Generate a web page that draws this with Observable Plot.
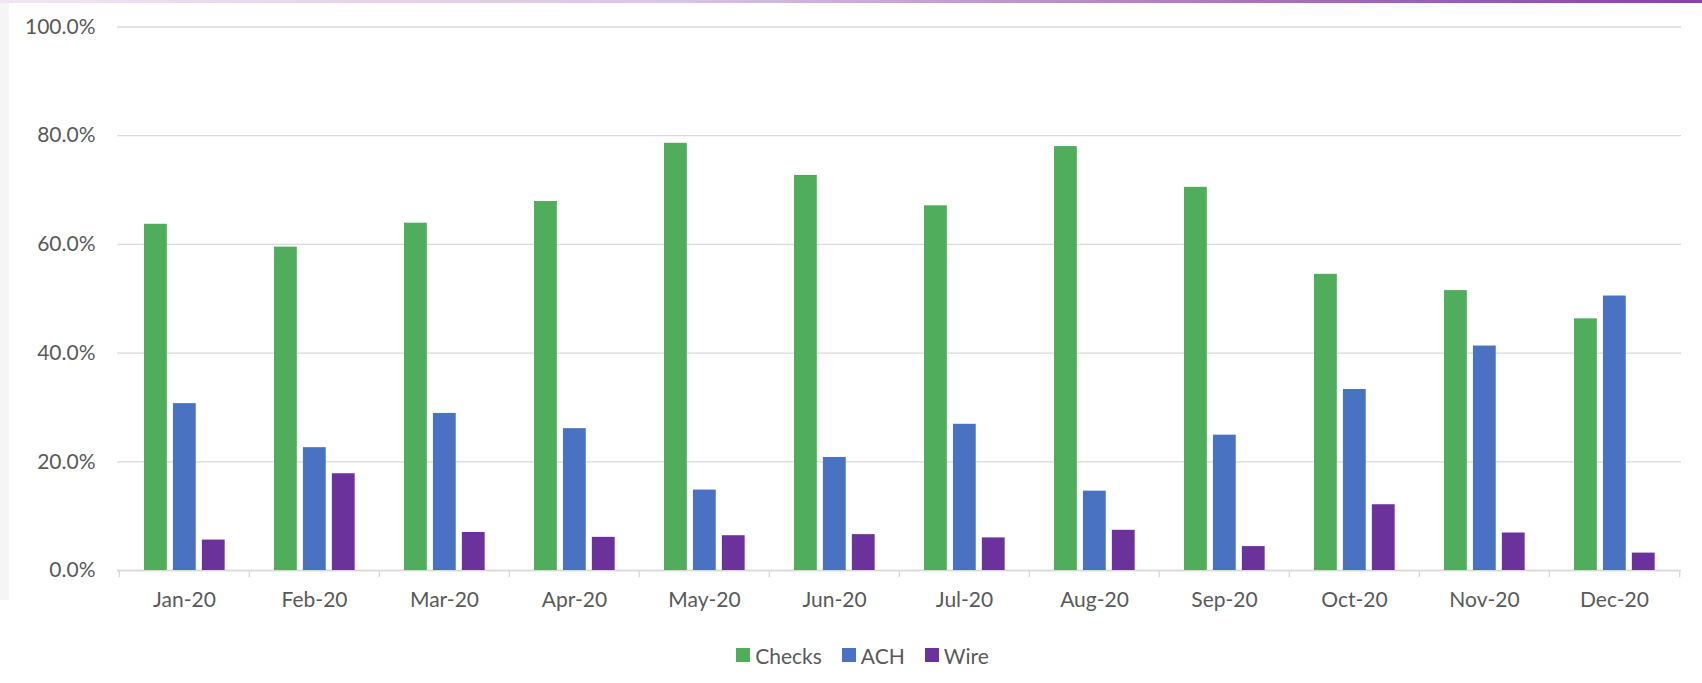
<!DOCTYPE html>
<html>
<head>
<meta charset="utf-8">
<script src="https://cdn.jsdelivr.net/npm/d3@7"></script>
<script src="https://cdn.jsdelivr.net/npm/@observablehq/plot@0.6"></script>
<style>
  html, body { margin: 0; padding: 0; background: #fff; }
  body { width: 1702px; height: 683px; position: relative; overflow: hidden; font-family: Lato, sans-serif; }
  #topstrip { position: absolute; left: 0; top: 0; width: 1702px; height: 3px;
    background: linear-gradient(to right, #efe6f2 0%, #d9c4e3 40%, #a86fc0 75%, #8b3fa8 100%); }
  #leftstrip { position: absolute; left: 0; top: 3px; width: 9px; height: 597px; background: #f5f5f5; }
  #chart { position: absolute; left: 0; top: 0; }
  #legend { position: absolute; left: 0; top: 635px; width: 1702px; height: 40px; display: flex;
    justify-content: center; align-items: center; gap: 20px; font-size: 21px; color: #595959;
    box-sizing: border-box; padding-left: 23px; }
  #legend .item { display: flex; align-items: center; gap: 5px; }
  #legend .sw { width: 14px; height: 14px; display: inline-block; }
</style>
</head>
<body>
<div id="chart"></div>
<div id="topstrip"></div>
<div id="leftstrip"></div>
<div id="legend"></div>
<script>
const months = ["Jan-20","Feb-20","Mar-20","Apr-20","May-20","Jun-20","Jul-20","Aug-20","Sep-20","Oct-20","Nov-20","Dec-20"];
const series = ["Checks","ACH","Wire"];
const colors = ["#4fad5b","#4a72c2","#6b329b"];
const checks = [0.637,0.595,0.639,0.679,0.786,0.727,0.671,0.780,0.705,0.545,0.515,0.463];
const ach    = [0.307,0.226,0.289,0.261,0.148,0.208,0.269,0.146,0.249,0.333,0.413,0.505];
const wire   = [0.056,0.178,0.070,0.061,0.064,0.066,0.060,0.074,0.044,0.121,0.069,0.032];
const yTicks = [0,0.2,0.4,0.6,0.8,1.0];

const valuesBySeries = {Checks: checks, ACH: ach, Wire: wire};
const data = series.flatMap(s => months.map((m, i) => ({month: m, series: s, value: valuesBySeries[s][i]})));

const W = 1702, H = 635, ML = 117, MR = 21, MT = 26.5, MB = 65;
const step = (W - ML - MR) / months.length;
// inner band for the three series within each month
const inner = d3.scaleBand().domain(series).range([25, 106]).paddingInner(0.2).paddingOuter(0);

const barMarks = series.map((s, k) => Plot.barY(data.filter(d => d.series === s), {
  x: "month", y: "value", fill: colors[k],
  insetLeft: inner(s), insetRight: step - inner(s) - inner.bandwidth()
}));

const plot = Plot.plot({
  width: W, height: H,
  marginLeft: ML, marginRight: MR, marginTop: MT, marginBottom: MB,
  style: {fontFamily: "Lato, sans-serif", fontSize: "21px", color: "#595959", background: "transparent"},
  x: {domain: months, padding: 0, label: null},
  y: {domain: [0, 1], label: null},
  marks: [
    Plot.gridY(yTicks, {stroke: "#d9d9d9", strokeOpacity: 1, strokeWidth: 1.3}),
    Plot.ruleY([0], {stroke: "#d9d9d9", strokeWidth: 1.3}),
    Plot.ruleX(months, {x: d => d, y1: 0, y2: -0.0135, dx: -step / 2, stroke: "#d9d9d9", strokeWidth: 1.3}),
    Plot.ruleX(months.slice(-1), {x: d => d, y1: 0, y2: -0.0135, dx: step / 2, stroke: "#d9d9d9", strokeWidth: 1.3}),
    ...barMarks,
    Plot.axisY(yTicks, {tickSize: 0, tickPadding: 22, tickFormat: d3.format(".1%"), fill: "#595959", label: null}),
    Plot.axisX({tickSize: 0, tickPadding: 22, fill: "#595959", label: null})
  ]
});
document.getElementById("chart").appendChild(plot);

const legend = document.getElementById("legend");
series.forEach((s, k) => {
  const it = document.createElement("div");
  it.className = "item";
  const sw = document.createElement("span");
  sw.className = "sw";
  sw.style.background = colors[k];
  const t = document.createElement("span");
  t.textContent = s;
  it.appendChild(sw); it.appendChild(t);
  legend.appendChild(it);
});
</script>
</body>
</html>
